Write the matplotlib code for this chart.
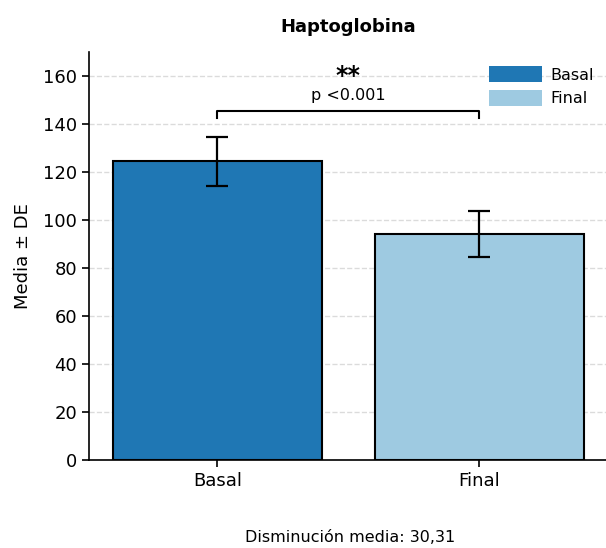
import matplotlib
matplotlib.use("Agg")
import matplotlib.pyplot as plt
from matplotlib.patches import Patch

categories = ["Basal", "Final"]
means = [124.3, 94.0]
sds = [10.2, 9.6]
colors = ["#1f77b4", "#9ecae1"]
title = "Haptoglobina"
ylabel = "Media ± DE"
footer = "Disminución media: 30,31"
sig_stars = "**"
sig_text = "p <0.001"
bracket_y = 145.5
bracket_drop = 3

fig = plt.figure(figsize=(6.06, 5.48), dpi=100)
ax = fig.add_axes([0.147, 0.1606, 0.856, 0.745])

x = list(range(len(categories)))
ax.bar(x, means, width=0.8, color=colors, edgecolor="black", linewidth=1.5, zorder=2)
ax.errorbar(x, means, yerr=sds, fmt="none", ecolor="black", elinewidth=1.6,
            capsize=8, capthick=1.6, zorder=3)

ax.set_xlim(-0.49, 1.49)
ax.set_ylim(0, 170)
ax.set_yticks(range(0, 161, 20))
ax.set_xticks(x)
ax.set_xticklabels(categories)
ax.tick_params(labelsize=13, width=1.2, length=5)
ax.set_ylabel(ylabel, fontsize=13, labelpad=8)
ax.set_title(title, fontsize=13, fontweight="bold", pad=14)
ax.yaxis.grid(True, linestyle="--", color="#cccccc", alpha=0.7, linewidth=1, zorder=0)
ax.set_axisbelow(True)
for s in ["top", "right"]:
    ax.spines[s].set_visible(False)
for s in ["left", "bottom"]:
    ax.spines[s].set_linewidth(1.2)

ax.plot([x[0], x[0], x[1], x[1]],
        [bracket_y - bracket_drop, bracket_y, bracket_y, bracket_y - bracket_drop],
        color="black", linewidth=1.5)
ax.text(0.5, bracket_y + 3, sig_text, ha="center", va="bottom", fontsize=11.5)
ax.text(0.5, bracket_y + 9.5, sig_stars, ha="center", va="bottom", fontsize=17, fontweight="bold")

handles = [Patch(facecolor=c, label=l) for c, l in zip(colors, categories)]
ax.legend(handles=handles, loc="upper right", frameon=False, fontsize=11.5,
          bbox_to_anchor=(1.0, 1.0), handlelength=3.3, handleheight=1.2,
          handletextpad=0.5, labelspacing=0.45)

fig.text(0.577, 0.005, footer, ha="center", va="bottom", fontsize=11.5)

fig.savefig("out.png", dpi=100)
